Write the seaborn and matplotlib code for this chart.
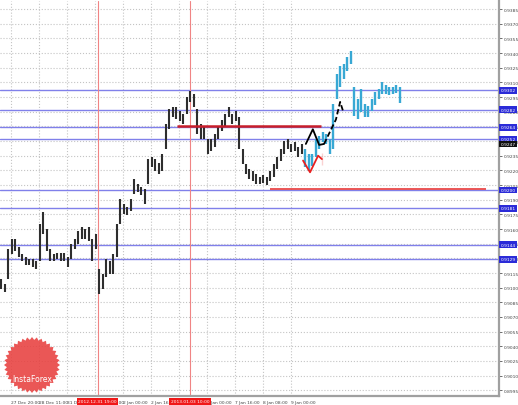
import numpy as np
import pandas as pd
import matplotlib
matplotlib.use("Agg")
import matplotlib.pyplot as plt
from matplotlib.patches import Polygon
import seaborn as sns

# price bars, H1-ish, black history then the cyan continuation
black_high = [0.9109, 0.9104, 0.9140, 0.9150, 0.9150, 0.9142, 0.9134, 0.9131, 0.9129, 0.9129,
              0.9127, 0.9165, 0.9177, 0.9160, 0.9140, 0.9134, 0.9135, 0.9135, 0.9135, 0.9131,
              0.9145, 0.9150, 0.9158, 0.9162, 0.9160, 0.9162, 0.9150, 0.9155, 0.9119, 0.9114,
              0.9129, 0.9127, 0.9134, 0.9165, 0.9191, 0.9186, 0.9183, 0.9191, 0.9211, 0.9206,
              0.9203, 0.9201, 0.9232, 0.9234, 0.9232, 0.9227, 0.9237, 0.9267, 0.9283, 0.9285,
              0.9285, 0.9281, 0.9278, 0.9295, 0.9301, 0.9298, 0.9283, 0.9267, 0.9264, 0.9252,
              0.9252, 0.9257, 0.9264, 0.9272, 0.9278, 0.9285, 0.9278, 0.9281, 0.9275, 0.9242,
              0.9226, 0.9221, 0.9219, 0.9216, 0.9213, 0.9215, 0.9213, 0.9219, 0.9226, 0.9234,
              0.9242, 0.9250, 0.9252, 0.9247, 0.9249, 0.9244, 0.9247]
black_low = [0.9099, 0.9096, 0.9109, 0.9134, 0.9138, 0.9131, 0.9127, 0.9123, 0.9123, 0.9121,
             0.9119, 0.9127, 0.9155, 0.9138, 0.9127, 0.9127, 0.9129, 0.9127, 0.9127, 0.9121,
             0.9129, 0.9140, 0.9145, 0.9150, 0.9150, 0.9148, 0.9127, 0.9140, 0.9094, 0.9099,
             0.9111, 0.9114, 0.9114, 0.9131, 0.9165, 0.9175, 0.9174, 0.9178, 0.9196, 0.9198,
             0.9195, 0.9186, 0.9206, 0.9223, 0.9219, 0.9216, 0.9219, 0.9242, 0.9262, 0.9275,
             0.9273, 0.9270, 0.9267, 0.9278, 0.9290, 0.9285, 0.9257, 0.9252, 0.9252, 0.9237,
             0.9240, 0.9244, 0.9252, 0.9260, 0.9264, 0.9275, 0.9267, 0.9270, 0.9242, 0.9226,
             0.9216, 0.9211, 0.9209, 0.9206, 0.9206, 0.9207, 0.9205, 0.9209, 0.9213, 0.9221,
             0.9230, 0.9237, 0.9242, 0.9239, 0.9240, 0.9234, 0.9237]
cyan_high = [0.9242, 0.9237, 0.9237, 0.9252, 0.9255, 0.9259, 0.9257, 0.9252, 0.9288, 0.9319,
             0.9327, 0.9329, 0.9336, 0.9342, 0.9305, 0.9293, 0.9303, 0.9288, 0.9286, 0.9293,
             0.9300, 0.9303, 0.9310, 0.9307, 0.9305, 0.9305, 0.9307, 0.9305]
cyan_low = [0.9223, 0.9219, 0.9224, 0.9234, 0.9242, 0.9249, 0.9247, 0.9237, 0.9242, 0.9293,
            0.9305, 0.9313, 0.9322, 0.9329, 0.9276, 0.9273, 0.9280, 0.9275, 0.9275, 0.9281,
            0.9287, 0.9293, 0.9298, 0.9298, 0.9297, 0.9298, 0.9299, 0.9289]

# forecast sketches
fc_black_x = [87.1, 89.1, 90.9, 92.3]
fc_black_y = [0.9247, 0.9262, 0.9246, 0.9247]
fc_dash_x = [92.3, 95.7, 96.9, 97.7]
fc_dash_y = [0.9247, 0.9272, 0.9290, 0.9281]
fc_red_x = [86.3, 88.3, 90.6, 91.7, 91.7]
fc_red_y = [0.9230, 0.9218, 0.9235, 0.9238, 0.9225]

# levels
blue_levels = [0.9302, 0.9282, 0.9264, 0.9252, 0.9200, 0.9181, 0.9144, 0.9129]
current_price = 0.9247
red_seg1 = (50.3, 91.4, 0.9265)
red_seg2 = (77.0, 138.6, 0.9201)
red_vlines = [27.6, 54.0]
red_vlabels = ["2012.12.31 19:00", "2013.01.03 10:00"]

xtick_pos = [2.86 + 8 * k for k in range(11)]
xtick_labels = ["27 Dec 20:00", "28 Dec 11:00", "31 Dec 03:00", "31 Dec 19:00", "2 Jan 00:00",
                "2 Jan 16:00", "3 Jan 08:00", "7 Jan 00:00", "7 Jan 16:00", "8 Jan 08:00", "9 Jan 00:00"]
ytick_vals = [round(0.8995 + 0.0015 * k, 4) for k in range(27)]

sns.set_style("whitegrid", {"grid.linestyle": ":", "grid.color": "#c4c4c4",
                            "axes.edgecolor": "#a0a0a0"})
plt.rcParams['font.family'] = ['DejaVu Sans']

fig = plt.figure(figsize=(5.18, 4.06), dpi=100)
ax = fig.add_axes([0, 9 / 406, 499 / 518, 395 / 406])

ax.set_xlim(-0.3, 142.3)
ax.set_ylim(0.89892, 0.93932)

for lv in blue_levels:
    ax.axhline(lv, color="#8080ea", lw=1.0, zorder=1)
for xv in red_vlines:
    ax.axvline(xv, color="#f08484", lw=0.8, zorder=1)

bx = np.arange(len(black_high))
ax.vlines(bx, black_low, black_high, color="#2e2e2e", lw=1.5, zorder=3)
cx = np.arange(len(black_high), len(black_high) + len(cyan_high))
ax.vlines(cx, cyan_low, cyan_high, color="#38a8d4", lw=1.7, zorder=3)

ax.hlines(red_seg1[2], red_seg1[0], red_seg1[1], color="#c81e2a", lw=1.8, zorder=4)
ax.hlines(red_seg2[2], red_seg2[0], red_seg2[1], color="#e83a3a", lw=1.2, zorder=4)

sns.lineplot(x=fc_black_x, y=fc_black_y, sort=False, color="black", lw=1.3, ax=ax, zorder=5)
sns.lineplot(x=fc_dash_x, y=fc_dash_y, sort=False, color="black", lw=1.3, ax=ax, zorder=5,
             linestyle=(0, (3, 1.5)))
sns.lineplot(x=fc_red_x, y=fc_red_y, sort=False, color="#e82020", lw=1.3, ax=ax, zorder=5)

ax.yaxis.tick_right()
ax.set_yticks(ytick_vals)
ax.set_yticklabels([f"{v:.4f}" for v in ytick_vals], fontsize=3.2, color="#444444")
ax.set_xticks(xtick_pos)
ax.set_xticklabels(xtick_labels, fontsize=3.2, color="#444444", ha="left")
ax.tick_params(axis="both", length=2, width=0.6, color="#555555", pad=1.2)
ax.tick_params(axis="y", pad=1.5)
ax.grid(True)

for sp in ["top", "left"]:
    ax.spines[sp].set_visible(False)
for sp in ["right", "bottom"]:
    ax.spines[sp].set_linewidth(1.6)

ytr = ax.get_yaxis_transform()
for lv in blue_levels:
    ax.text(1.003, lv, f"{lv:.4f}", transform=ytr, fontsize=3.2, color="white",
            ha="left", va="center", clip_on=False, zorder=6,
            bbox=dict(boxstyle="square,pad=0.3", fc="#2b2bd8", ec="none"))
ax.text(1.003, current_price, f"{current_price:.4f}", transform=ytr, fontsize=3.2, color="white",
        ha="left", va="center", clip_on=False, zorder=7,
        bbox=dict(boxstyle="square,pad=0.3", fc="#111111", ec="none"))

xtr = ax.get_xaxis_transform()
for xv, lab in zip(red_vlines, red_vlabels):
    ax.text(xv, -0.0135, lab, transform=xtr, fontsize=3.2, color="white", ha="center", va="center",
            clip_on=False, zorder=7, bbox=dict(boxstyle="square,pad=0.35", fc="#f01818", ec="none"))

# InstaForex badge (scalloped disc, in pixel units of the figure)
cxp, cyp, rad = 32.0, 406 - 366.0, 28.0
ang = np.linspace(0, 2 * np.pi, 73)
rr = np.where(np.arange(73) % 2 == 0, rad, rad * 0.9)
pts = np.column_stack([(cxp + rr * np.cos(ang)) / 518, (cyp + rr * np.sin(ang)) / 406])
badge = Polygon(pts, closed=True, transform=fig.transFigure, fc="#e8403f", ec="none",
                alpha=0.88, zorder=8)
ax.add_patch(badge)
badge.set_clip_path(ax.patch)
ax.text(0.064, 0.045, "InstaForex", transform=ax.transAxes, fontsize=5.5, color="white",
        ha="center", va="center", zorder=9)

fig.savefig("out.png", dpi=100, facecolor="white")
